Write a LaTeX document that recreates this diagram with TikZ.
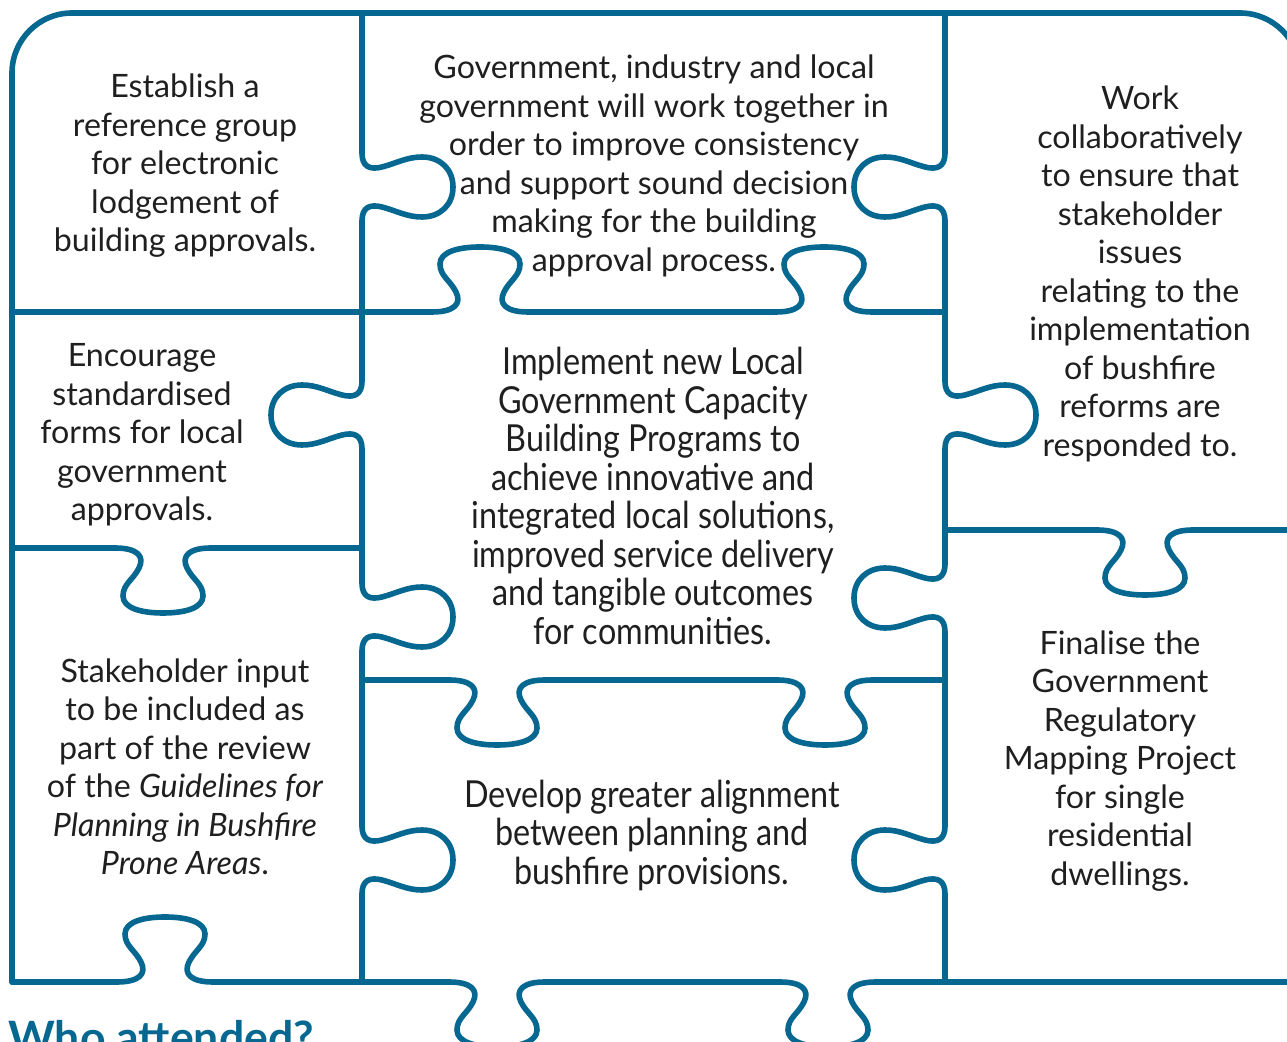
\documentclass[tikz,border=0pt]{standalone}
\usepackage{fontspec}
\setmainfont{Lato}
\newfontfamily\condfont[FakeStretch=0.87]{Lato}
\definecolor{puzzleblue}{RGB}{6,104,144}

\begin{document}
\begin{tikzpicture}[x=0.5pt,y=-0.5pt,
  cutline/.style={draw=puzzleblue,line width=2.8pt,line cap=round,line join=round},
  txt/.style={align=center,text=black!88,font=\fontsize{16.1}{19.25}\selectfont},
  cond/.style={align=center,text=black!88,font=\condfont\fontsize{18.6}{19.25}\selectfont},
  vtab/.pic={\draw[cutline] (0,-34) .. controls (0,-20) and (8,-17) .. (20,-20)
      .. controls (35,-24) and (45,-30) .. (60,-30)
      .. controls (78,-30) and (91,-18) .. (91,0)
      .. controls (91,18) and (78,30) .. (60,30)
      .. controls (45,30) and (35,24) .. (20,20)
      .. controls (8,17) and (0,20) .. (0,34);},
  htab/.pic={\draw[cutline] (-48,0) .. controls (-26,0) and (-18,8) .. (-24,20)
      .. controls (-30,32) and (-40,36) .. (-40,48)
      .. controls (-40,60) and (-22,65) .. (0,65)
      .. controls (22,65) and (40,60) .. (40,48)
      .. controls (40,36) and (30,32) .. (24,20)
      .. controls (18,8) and (26,0) .. (48,0);}]
  \useasboundingbox (0,0) rectangle (1287,1042);
  \clip (0,0) rectangle (1287,1042);

  % Outer frame
  \draw[cutline,rounded corners=30pt] (12,982) -- (12,13) -- (1300,13) -- (1300,982);
  \draw[cutline] (12,982) -- (117,982) (213,982) -- (449,982)
    (545,982) -- (780,982) (876,982) -- (1300,982);
  \pic[yscale=-1] at (165,982) {htab};
  \pic at (497,982) {htab};
  \pic at (828,982) {htab};

  % Left column
  \draw[cutline] (12,312) -- (362,312);
  \draw[cutline] (12,548) -- (115,548) (211,548) -- (362,548);
  \pic at (163,548) {htab};

  % Middle column
  \draw[cutline] (362,312) -- (432,312) (528,312) -- (776,312) (872,312) -- (945,312);
  \pic[yscale=-1] at (480,312) {htab};
  \pic[yscale=-1] at (824,312) {htab};
  \draw[cutline] (362,680) -- (449,680) (545,680) -- (777,680) (873,680) -- (945,680);
  \pic at (497,680) {htab};
  \pic at (825,680) {htab};

  % Right column
  \draw[cutline] (945,530) -- (1097,530) (1193,530) -- (1300,530);
  \pic at (1145,530) {htab};

  % Dividers
  \draw[cutline] (362,13) -- (362,153) (362,221) -- (362,381) (362,449) -- (362,583)
    (362,651) -- (362,826) (362,894) -- (362,982);
  \pic at (362,187) {vtab};
  \pic[xscale=-1] at (362,415) {vtab};
  \pic at (362,617) {vtab};
  \pic at (362,860) {vtab};
  \draw[cutline] (945,13) -- (945,153) (945,221) -- (945,381) (945,449) -- (945,564)
    (945,632) -- (945,826) (945,894) -- (945,982);
  \pic[xscale=-1] at (945,187) {vtab};
  \pic at (945,415) {vtab};
  \pic[xscale=-1] at (945,598) {vtab};
  \pic[xscale=-1] at (945,860) {vtab};

  % Texts
  \node[txt] (est) at (185,166) {Establish a\\reference group\\for electronic\\lodgement of\\building approvals.};
  \node[txt] (gov) at (654,166) {Government, industry and local\\government will work together in\\order to improve consistency\\and support sound decision\\making for the building\\approval process.};
  \node[txt] (work) at (1140,274) {Work\\collaboratively\\to ensure that\\stakeholder\\issues\\relating to the\\implementation\\of bushfire\\reforms are\\responded to.};
  \node[txt] (enc) at (142,435) {Encourage\\standardised\\forms for local\\government\\approvals.};
  \node[cond] (impl) at (653,496) {Implement new Local\\Government Capacity\\Building Programs to\\achieve innovative and\\integrated local solutions,\\improved service delivery\\and tangible outcomes\\for communities.};
  \node[txt] (stake) at (185,767) {Stakeholder input\\to be included as\\part of the review\\of the \textit{Guidelines for}\\\textit{Planning in Bushfire}\\\textit{Prone Areas}.};
  \node[cond] (dev) at (652,835) {Develop greater alignment\\between planning and\\bushfire provisions.};
  \node[txt] (fin) at (1120,761) {Finalise the\\Government\\Regulatory\\Mapping Project\\for single\\residential\\dwellings.};

  % Next heading, cut by the page edge
  \node[anchor=base west,inner sep=0pt,text=puzzleblue,font=\bfseries\fontsize{22.3}{26}\selectfont] (who) at (8,1054) {Who attended?};
\end{tikzpicture}
\end{document}
